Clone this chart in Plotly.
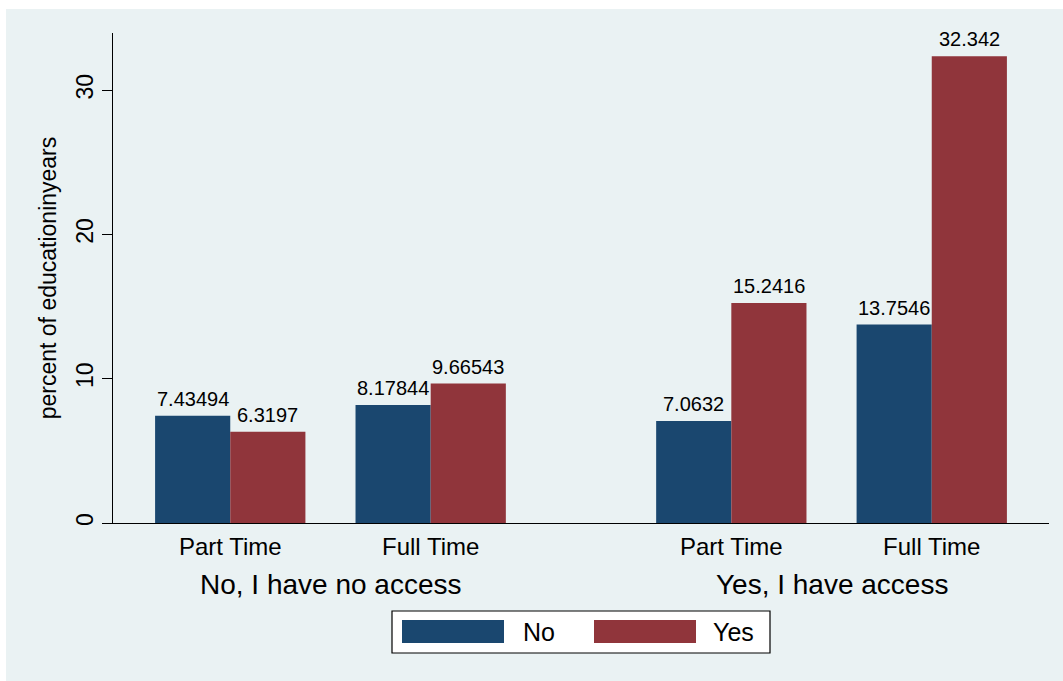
import plotly.graph_objects as go

# ---- data ----
groups = ["No, I have no access", "Yes, I have access"]
subgroups = ["Part Time", "Full Time"]
series_names = ["No", "Yes"]
no_vals = [7.43494, 8.17844, 7.0632, 13.7546]
yes_vals = [6.3197, 9.66543, 15.2416, 32.342]
y_ticks = [0, 10, 20, 30]
y_title = "percent of educationinyears"

# ---- styling ----
BLUE = "#1A476F"
RED = "#90353B"
BG = "#EAF2F3"
FONT = "Liberation Sans, Arial, sans-serif"

W, H = 1063, 681
L, R, T, B = 113, 14, 33, 158
PW, PH = W - L - R, H - T - B

def px2x(px):
    return (px - L) / PW

def py2y(py):
    return (H - B - py) / PH

# positions: two subgroups per group with a gap between groups
positions = []
tick_text = []
for gi, g in enumerate(groups):
    for si, s in enumerate(subgroups):
        positions.append(gi * (2 * len(subgroups) + 1) + si * 2)
        tick_text.append(s)

bar_w = 0.75
fig = go.Figure()
annotations = []
for vals, name, col, off in [(no_vals, series_names[0], BLUE, -bar_w),
                             (yes_vals, series_names[1], RED, 0)]:
    fig.add_trace(go.Bar(
        x=positions, y=vals, name=name, marker_color=col,
        marker_line_width=0, width=bar_w, offset=off,
        showlegend=False, hoverinfo="x+y",
    ))
    for p, v in zip(positions, vals):
        annotations.append(dict(x=p + off + bar_w / 2, xref="x", y=v, yref="y",
                                text=str(v), showarrow=False, xanchor="center",
                                yanchor="bottom", yshift=4,
                                font=dict(size=20, color="black", family=FONT)))

shapes = []
# graph region background
shapes.append(dict(type="rect", xref="paper", yref="paper", layer="below",
                   x0=px2x(6), x1=px2x(1063), y0=py2y(681), y1=py2y(9),
                   fillcolor=BG, line_width=0))

# group labels
n_sub = len(subgroups)
for gi, g in enumerate(groups):
    ps = positions[gi * n_sub:(gi + 1) * n_sub]
    annotations.append(dict(x=sum(ps) / len(ps), xref="x", y=py2y(584), yref="paper",
                            text=g, showarrow=False, xanchor="center", yanchor="middle",
                            font=dict(size=28, color="black", family=FONT)))

# legend box
shapes.append(dict(type="rect", xref="paper", yref="paper",
                   x0=px2x(392), x1=px2x(770), y0=py2y(653), y1=py2y(611),
                   fillcolor="white", line=dict(color="black", width=1.2)))
legend_items = [(series_names[0], BLUE, 402, 504, 521), (series_names[1], RED, 594, 696, 711)]
for name, col, sx0, sx1, tx in legend_items:
    shapes.append(dict(type="rect", xref="paper", yref="paper",
                       x0=px2x(sx0), x1=px2x(sx1), y0=py2y(643), y1=py2y(620),
                       fillcolor=col, line_width=0))
    annotations.append(dict(x=px2x(tx), xref="paper", y=py2y(632), yref="paper",
                            text=name, showarrow=False, xanchor="left", yanchor="middle",
                            font=dict(size=25, color="black", family=FONT)))

fig.update_layout(
    width=W, height=H,
    margin=dict(l=L, r=R, t=T, b=B, pad=0),
    paper_bgcolor="white", plot_bgcolor="white",
    barmode="overlay",
    font=dict(family=FONT, color="black"),
    shapes=shapes, annotations=annotations,
    showlegend=False,
    xaxis=dict(range=[-1.17, 8.17], tickvals=positions, ticktext=tick_text,
               showline=True, linecolor="black", linewidth=1.3, showgrid=False,
               zeroline=False, ticks="", ticklabelstandoff=2,
               tickfont=dict(size=24, color="black", family=FONT), fixedrange=True),
    yaxis=dict(range=[0, 33.96], tickvals=y_ticks, tickangle=-90,
               showline=True, linecolor="black", linewidth=1.3,
               ticks="outside", ticklen=10, tickcolor="black", tickwidth=1.3,
               showgrid=True, gridcolor=BG, gridwidth=1.5, zeroline=False,
               tickfont=dict(size=23, color="black", family=FONT),
               title=dict(text=y_title, standoff=8, font=dict(size=23, color="black", family=FONT)),
               fixedrange=True),
)

fig.write_html("out.html", config={"displayModeBar": False},
               post_script="document.body.style.margin='0';document.body.style.padding='0';")
